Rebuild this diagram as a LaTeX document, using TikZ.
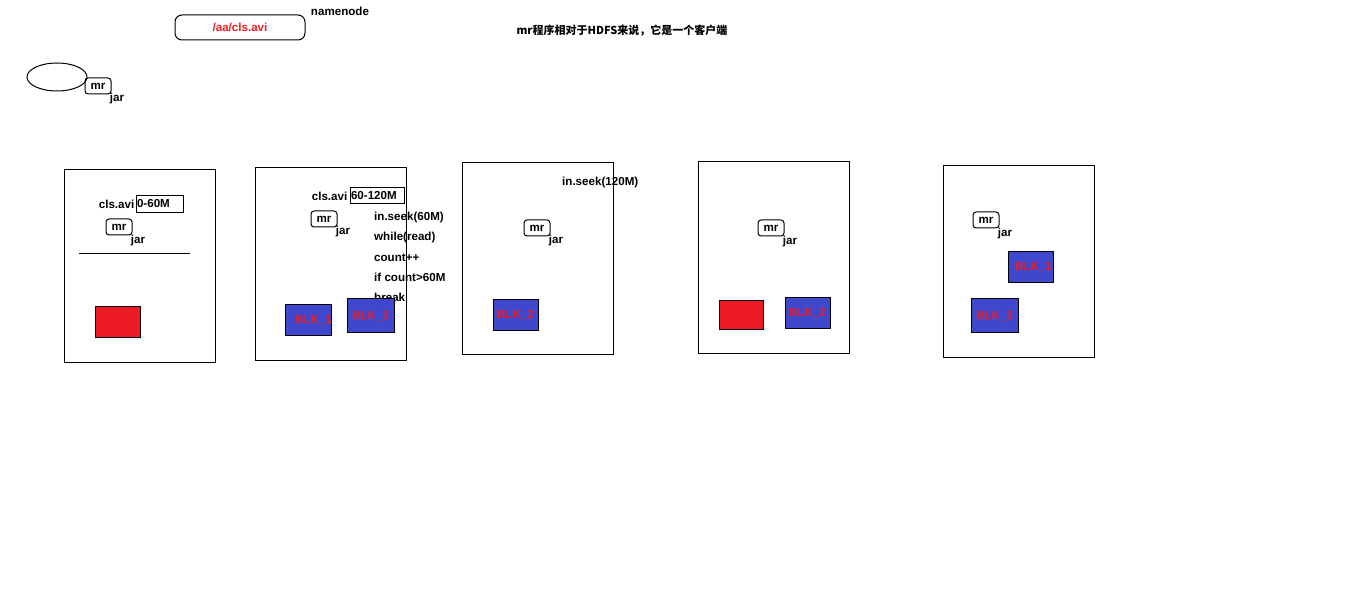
\documentclass[tikz,border=0pt]{standalone}
\usepackage{fontspec}
\setmainfont{Liberation Sans}
\newfontfamily\cjk{Noto Sans CJK SC}
\usetikzlibrary{shapes.geometric}
\definecolor{pred}{HTML}{ED1C24}
\definecolor{pblue}{HTML}{3F48CC}
\begin{document}
\begin{tikzpicture}[x=1pt,y=-1pt,
  every node/.style={font=\fontsize{11.6}{13}\selectfont\bfseries, inner sep=0pt},
  txt/.style={yshift=-1.5pt},
  hostbox/.style={draw=black, line width=1pt, minimum width=151, minimum height=192},
  mrbox/.style={draw=black, line width=1pt, rounded corners=3pt, minimum width=26, minimum height=16},
  redblk/.style={draw=black, line width=1pt, fill=pred, minimum width=45, minimum height=31},
  blueblk/.style={draw=black, line width=1pt, fill=pblue, minimum width=45, minimum height=31, text=pred},
  rangebox/.style={draw=black, line width=1pt, minimum height=17, align=left},
  codeline/.style={anchor=west, txt}
]
\useasboundingbox[fill=white] (0,0) rectangle (1354,593);

% top area
\node[draw=black, line width=1pt, rounded corners=7pt, minimum width=130, minimum height=25, text=pred] (nn) at (240,27.5) {/aa/cls.avi};
\node[txt] (nnlabel) at (340,10) {namenode};
\node[draw=black, line width=1pt, ellipse, minimum width=60, minimum height=28] (client) at (57,77) {};
\node[mrbox] (mr0) at (98,86) {mr};
\node[txt] (jar0) at (117,97) {jar};
\node[txt] (note) at (622,29) {\cjk\fontsize{11}{13}\selectfont\bfseries mr程序相对于HDFS来说，它是一个客户端};

% host 1
\node[hostbox] (h1) at (139.5,266) {};
\node[anchor=east] (cls1) at (134.5,204) {cls.avi};
\node[rangebox, minimum width=47, text width=45] (r1) at (159.5,204) {0-60M};
\node[mrbox] (mr1) at (119,227) {mr};
\node[txt] (jar1) at (138,239) {jar};
\coordinate (l1a) at (79,254);
\coordinate (l1b) at (190,254);
\draw[line width=1pt] (l1a) -- (l1b);
\node[redblk] (red1) at (117.5,322.5) {};

% host 2
\node[hostbox] (h2) at (330.5,264) {};
\node[anchor=east] (cls2) at (347.5,196) {cls.avi};
\node[rangebox, minimum width=54, minimum height=16, text width=52] (r2) at (377,196) {60-120M};
\node[mrbox] (mr2) at (324,219) {mr};
\node[txt] (jar2) at (343,230) {jar};
\node[codeline] (c1) at (374,216) {in.seek(60M)};
\node[codeline] (c2) at (374,236) {while(read)};
\node[codeline] (c3) at (374,256) {count++};
\node[codeline] (c4) at (374,276) {if count>60M};
\node[codeline] (c5) at (374,296) {break};
\node[blueblk, minimum width=45] (b21) at (308.5,320.5) {\hspace{10pt}BLK\_1};
\node[blueblk, minimum width=47, minimum height=34] (b23) at (370.5,316) {BLK\_3};

% host 3
\node[hostbox] (h3) at (537.5,259) {};
\node[anchor=west, txt] (seek3) at (562,181) {in.seek(120M)};
\node[mrbox] (mr3) at (537,228) {mr};
\node[txt] (jar3) at (556,239) {jar};
\node[blueblk] (b32) at (515.5,315.5) {BLK\_2};

% host 4
\node[hostbox] (h4) at (773.5,258) {};
\node[mrbox] (mr4) at (771,228) {mr};
\node[txt] (jar4) at (790,240) {jar};
\node[redblk, minimum width=44, minimum height=29] (red4) at (741,315.5) {};
\node[blueblk] (b42) at (807.5,313.5) {BLK\_2};

% host 5
\node[hostbox] (h5) at (1018.5,262) {};
\node[mrbox] (mr5) at (986,220) {mr};
\node[txt] (jar5) at (1005,232) {jar};
\node[blueblk] (b51) at (1030.5,267.5) {\hspace{6pt}BLK\_1};
\node[blueblk, minimum width=47, minimum height=34] (b53) at (994.5,316) {BLK\_3};
\end{tikzpicture}
\end{document}
